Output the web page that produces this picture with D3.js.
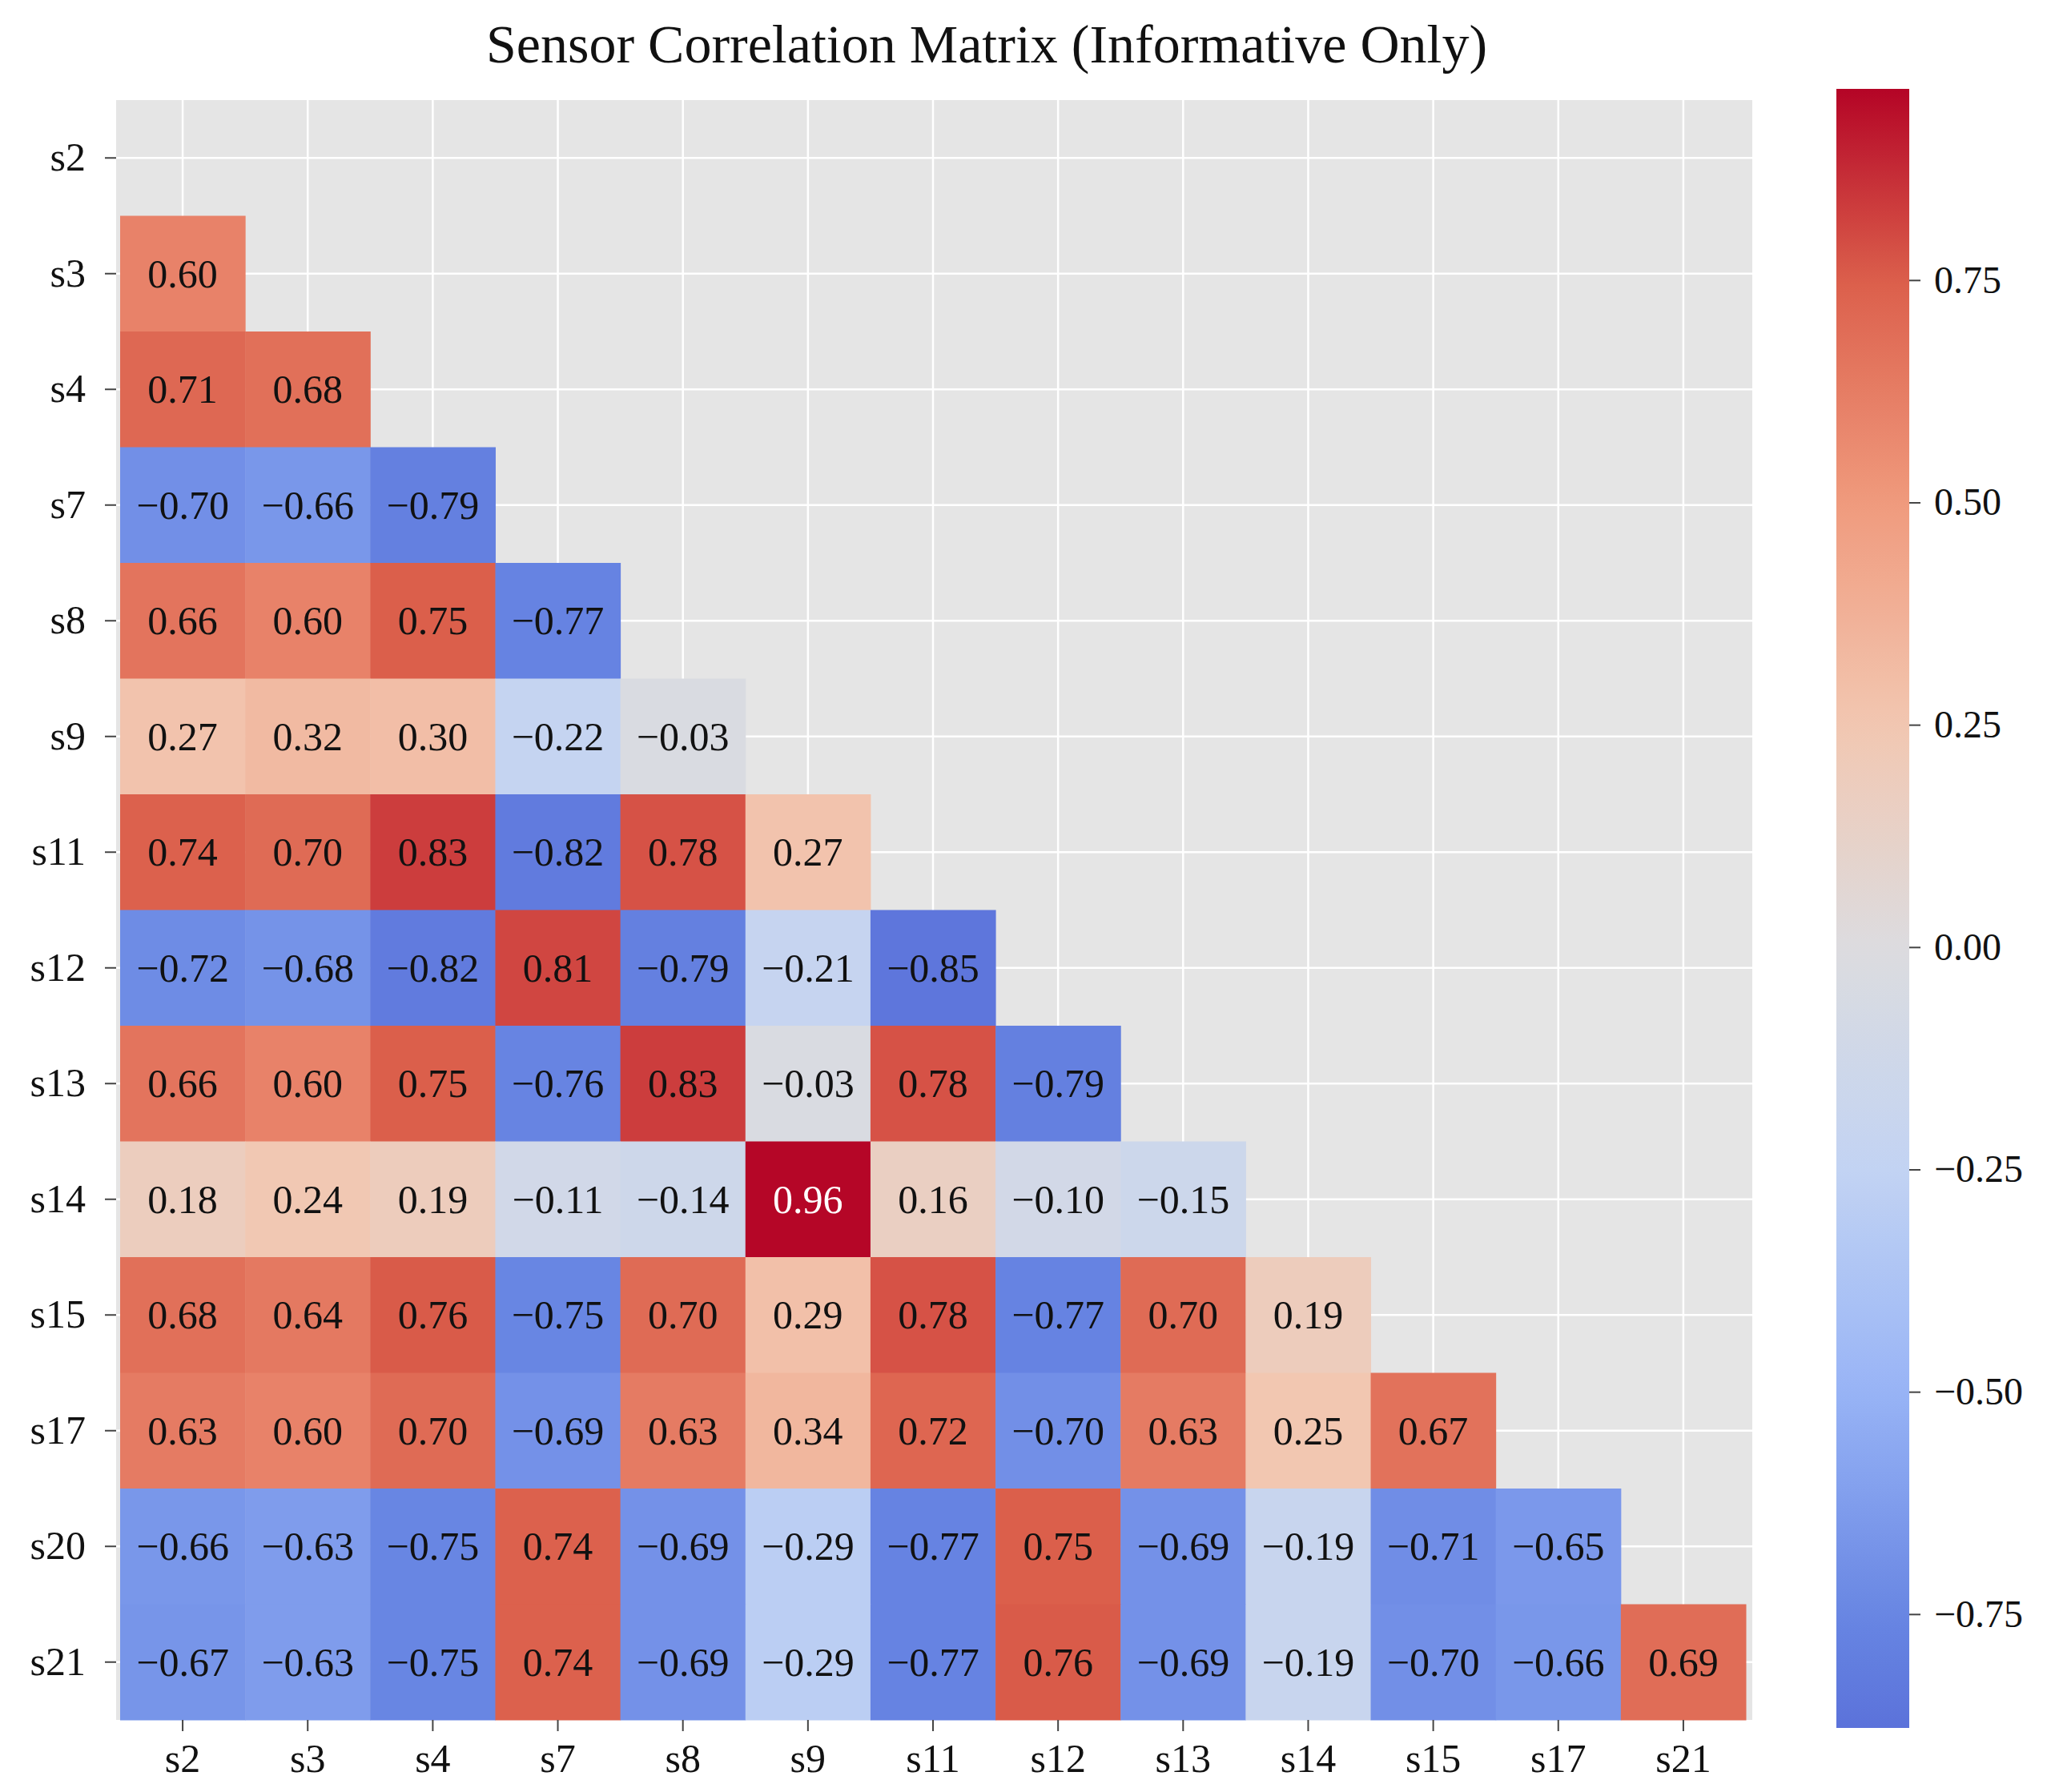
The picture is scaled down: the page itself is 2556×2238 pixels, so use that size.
<!DOCTYPE html>
<html>
<head>
<meta charset="utf-8">
<script src="https://cdn.jsdelivr.net/npm/d3@7"></script>
<style>
  body { margin: 0; background: #fff; }
  svg text { font-family: "Liberation Serif", "DejaVu Serif", serif; fill: #111; }
</style>
</head>
<body>
<div id="chart"></div>
<script>
// rows and columns of the masked correlation matrix
var rowLabels = ["s2", "s3", "s4", "s7", "s8", "s9", "s11", "s12", "s13", "s14", "s15", "s17", "s20", "s21"];
var colLabels = ["s2", "s3", "s4", "s7", "s8", "s9", "s11", "s12", "s13", "s14", "s15", "s17", "s21"];

// lower triangle, one list per row (read left to right)
var corrValues = [
  [],
  [0.60],
  [0.71, 0.68],
  [-0.70, -0.66, -0.79],
  [0.66, 0.60, 0.75, -0.77],
  [0.27, 0.32, 0.30, -0.22, -0.03],
  [0.74, 0.70, 0.83, -0.82, 0.78, 0.27],
  [-0.72, -0.68, -0.82, 0.81, -0.79, -0.21, -0.85],
  [0.66, 0.60, 0.75, -0.76, 0.83, -0.03, 0.78, -0.79],
  [0.18, 0.24, 0.19, -0.11, -0.14, 0.96, 0.16, -0.10, -0.15],
  [0.68, 0.64, 0.76, -0.75, 0.70, 0.29, 0.78, -0.77, 0.70, 0.19],
  [0.63, 0.60, 0.70, -0.69, 0.63, 0.34, 0.72, -0.70, 0.63, 0.25, 0.67],
  [-0.66, -0.63, -0.75, 0.74, -0.69, -0.29, -0.77, 0.75, -0.69, -0.19, -0.71, -0.65],
  [-0.67, -0.63, -0.75, 0.74, -0.69, -0.29, -0.77, 0.76, -0.69, -0.19, -0.70, -0.66, 0.69]
];

var colorbarTicks = [0.75, 0.50, 0.25, 0.00, -0.25, -0.50, -0.75];
var titleText = "Sensor Correlation Matrix (Informative Only)";

var width = 2556, height = 2238;
var plot = {left: 145, right: 2188, top: 125, bottom: 2148};
var cells = {left: 150, right: 2180, top: 125, bottom: 2148};
var bar = {left: 2293, right: 2384, top: 111, bottom: 2158};
var fontSize = 50;
var vmin = -0.878, vmax = 0.965;

var x = d3.scaleBand().domain(colLabels).range([cells.left, cells.right]);
var y = d3.scaleBand().domain(rowLabels).range([cells.top, cells.bottom]);

// coolwarm-like ramp, blue side a bit washed out as in the picture
var color = d3.scaleLinear()
  .domain([vmin, -0.75, -0.5, -0.25, 0, 0.25, 0.5, 0.75, vmax])
  .range(["#5b72da", "#6886e3", "#98b4f6", "#c2d3f3", "#dcdcdf", "#f2c7b1", "#f09a7d", "#db5f4b", "#b40426"])
  .clamp(true);

var fmt = d3.format(".2f");

var svg = d3.select("#chart").append("svg")
  .attr("width", width)
  .attr("height", height);

svg.append("rect").attr("width", width).attr("height", height).attr("fill", "#fff");

// plot background and grid
svg.append("rect")
  .attr("x", plot.left).attr("y", plot.top)
  .attr("width", plot.right - plot.left).attr("height", plot.bottom - plot.top)
  .attr("fill", "#e5e5e5");

svg.append("g").selectAll("line.v").data(colLabels).enter().append("line")
  .attr("x1", function(d) { return x(d) + x.bandwidth() / 2; })
  .attr("x2", function(d) { return x(d) + x.bandwidth() / 2; })
  .attr("y1", plot.top).attr("y2", plot.bottom)
  .attr("stroke", "#fff").attr("stroke-width", 2.5);

svg.append("g").selectAll("line.h").data(rowLabels).enter().append("line")
  .attr("y1", function(d) { return y(d) + y.bandwidth() / 2; })
  .attr("y2", function(d) { return y(d) + y.bandwidth() / 2; })
  .attr("x1", plot.left).attr("x2", plot.right)
  .attr("stroke", "#fff").attr("stroke-width", 2.5);

// flatten to cells
var cellData = [];
corrValues.forEach(function(row, i) {
  row.forEach(function(v, j) {
    cellData.push({row: rowLabels[i], col: colLabels[j], value: v});
  });
});

var cellG = svg.append("g");
cellG.selectAll("rect").data(cellData).enter().append("rect")
  .attr("x", function(d) { return x(d.col); })
  .attr("y", function(d) { return y(d.row); })
  .attr("width", x.bandwidth() + 0.5)
  .attr("height", y.bandwidth() + 0.5)
  .attr("fill", function(d) { return color(d.value); });

cellG.selectAll("text").data(cellData).enter().append("text")
  .attr("x", function(d) { return x(d.col) + x.bandwidth() / 2; })
  .attr("y", function(d) { return y(d.row) + y.bandwidth() / 2; })
  .attr("dy", "0.34em")
  .attr("text-anchor", "middle")
  .attr("font-size", fontSize + "px")
  .style("fill", function(d) { return d3.lab(color(d.value)).l < 42 ? "#fff" : "#111"; })
  .text(function(d) { return fmt(d.value); });

// axes
var yAxis = svg.append("g")
  .attr("transform", "translate(" + plot.left + ",0)")
  .call(d3.axisLeft(y).tickSize(14).tickPadding(24));
var xAxis = svg.append("g")
  .attr("transform", "translate(0," + plot.bottom + ")")
  .call(d3.axisBottom(x).tickSize(14).tickPadding(15));

[xAxis, yAxis].forEach(function(a) {
  a.select(".domain").remove();
  a.selectAll(".tick line").attr("stroke", "#444").attr("stroke-width", 2);
  a.selectAll(".tick text").attr("font-size", fontSize + "px").attr("font-family", null).style("fill", "#111");
});

// colorbar
var cbScale = d3.scaleLinear().domain([vmin, vmax]).range([bar.bottom, bar.top]);
var grad = svg.append("defs").append("linearGradient")
  .attr("id", "cbgrad")
  .attr("x1", 0).attr("y1", 1).attr("x2", 0).attr("y2", 0);
d3.range(0, 1.0001, 0.02).forEach(function(t) {
  grad.append("stop")
    .attr("offset", t)
    .attr("stop-color", color(vmin + t * (vmax - vmin)));
});
svg.append("rect")
  .attr("x", bar.left).attr("y", bar.top)
  .attr("width", bar.right - bar.left).attr("height", bar.bottom - bar.top)
  .attr("fill", "url(#cbgrad)");

var cbAxis = svg.append("g")
  .attr("transform", "translate(" + bar.right + ",0)")
  .call(d3.axisRight(cbScale).tickValues(colorbarTicks).tickFormat(fmt).tickSize(14).tickPadding(17));
cbAxis.select(".domain").remove();
cbAxis.selectAll(".tick line").attr("stroke", "#444").attr("stroke-width", 2);
cbAxis.selectAll(".tick text").attr("font-size", (fontSize - 2) + "px").attr("font-family", null).style("fill", "#111");

// title
svg.append("text")
  .attr("x", 1232)
  .attr("y", 78)
  .attr("text-anchor", "middle")
  .attr("font-size", "68px")
  .text(titleText);
</script>
</body>
</html>
